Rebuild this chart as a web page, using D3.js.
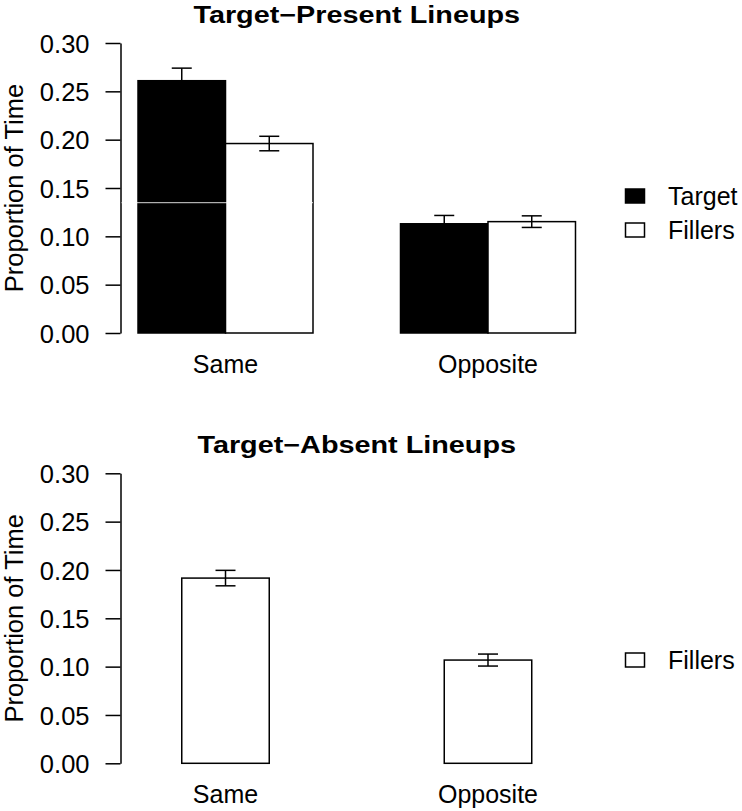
<!DOCTYPE html>
<html>
<head>
<meta charset="utf-8">
<script src="https://cdn.jsdelivr.net/npm/d3@7"></script>
<style>
  body { margin: 0; background: #fff; }
  text { font-family: "Liberation Sans", Arial, Helvetica, sans-serif; fill: #000; }
</style>
</head>
<body>
<script>
// values
const categories = ["Same", "Opposite"];
const yTicks = [0, 0.05, 0.10, 0.15, 0.20, 0.25, 0.30];

const presentTarget = [0.261, 0.113];
const presentTargetSE = [0.013, 0.0086];
const presentFillers = [0.196, 0.1152];
const presentFillersSE = [0.0075, 0.006];

const absentFillers = [0.1916, 0.1068];
const absentFillersSE = [0.008, 0.0062];

const W = 742, H = 811;

const svg = d3.select("body")
    .append("svg")
    .attr("width", W)
    .attr("height", H);

const x = d3.scaleBand().domain(categories)
    .range([120.5, 593]).paddingInner(1 / 3).paddingOuter(0.0667);

function panel(opts) {
    const y = d3.scaleLinear().domain([0, 0.3]).range([opts.bottom, opts.bottom - 290]);
    const g = svg.append("g");

    // title, centred over the plot region (the original lettering is wide and short)
    g.append("text")
        .attr("transform", `translate(${(x.range()[0] + x.range()[1]) / 2},${opts.bottom - 310}) scale(1.2,1)`)
        .attr("text-anchor", "middle")
        .style("font-size", "24px").style("font-weight", "bold")
        .text(opts.title);

    // y axis
    const ax = g.append("g")
        .attr("transform", `translate(120.5,0)`)
        .call(d3.axisLeft(y).tickValues(yTicks).tickFormat(d3.format(".2f"))
            .tickSize(15).tickSizeOuter(0).tickPadding(16));
    ax.selectAll("path, line").attr("stroke", "#000").attr("stroke-width", 1.5);
    ax.selectAll("text").style("font-size", "25.5px").attr("dy", "0.36em");

    g.append("text")
        .attr("transform", `translate(23,${y(0.15)}) rotate(-90)`)
        .attr("text-anchor", "middle")
        .style("font-size", "25.5px")
        .text("Proportion of Time");

    // bars
    const sub = d3.scaleBand().domain(opts.series.map(s => s.name))
        .range([0, x.bandwidth()]).paddingInner(0)
        .paddingOuter(opts.series.length === 1 ? 0.5 : 0);

    opts.series.forEach(s => {
        categories.forEach((c, i) => {
            const x0 = x(c) + sub(s.name);
            g.append("rect")
                .attr("x", x0).attr("width", sub.bandwidth())
                .attr("y", y(s.values[i])).attr("height", y(0) - y(s.values[i]))
                .attr("fill", s.fill).attr("stroke", "#000").attr("stroke-width", 1.5);
        });
    });

    // error bars
    opts.series.forEach(s => {
        categories.forEach((c, i) => {
            const cx = x(c) + sub(s.name) + sub.bandwidth() / 2;
            const lo = y(s.values[i] - s.se[i]), hi = y(s.values[i] + s.se[i]);
            const eg = g.append("g").attr("stroke", "#000").attr("stroke-width", 1.5);
            eg.append("line").attr("x1", cx).attr("x2", cx).attr("y1", lo).attr("y2", hi);
            eg.append("line").attr("x1", cx - 10).attr("x2", cx + 10).attr("y1", lo).attr("y2", lo);
            eg.append("line").attr("x1", cx - 10).attr("x2", cx + 10).attr("y1", hi).attr("y2", hi);
        });
    });

    // category labels
    g.selectAll(".cat").data(categories).join("text")
        .attr("x", d => x(d) + x.bandwidth() / 2)
        .attr("y", y(0) + 40)
        .attr("text-anchor", "middle")
        .style("font-size", "25px")
        .text(d => d);

    // legend
    opts.legend.forEach((s, i) => {
        const ly = opts.legendY + i * 34;
        g.append("rect")
            .attr("x", 625.5).attr("y", ly - 7).attr("width", 19).attr("height", 14)
            .attr("fill", s.fill).attr("stroke", "#000").attr("stroke-width", 1.5);
        g.append("text")
            .attr("x", 668).attr("y", ly)
            .attr("dy", "0.36em")
            .style("font-size", "25px")
            .text(s.name);
    });

    return y;
}

const yTop = panel({
    title: "Target\u2212Present Lineups",
    bottom: 333,
    series: [
        { name: "Target", values: presentTarget, se: presentTargetSE, fill: "#000" },
        { name: "Fillers", values: presentFillers, se: presentFillersSE, fill: "#fff" }
    ],
    legend: [{ name: "Target", fill: "#000" }, { name: "Fillers", fill: "#fff" }],
    legendY: 196
});

// faint seam that runs across the first group in the original image
svg.append("line")
    .attr("x1", 121.5).attr("x2", x("Same") + x.bandwidth())
    .attr("y1", yTop(0.1348)).attr("y2", yTop(0.1348))
    .attr("stroke", "#fff").attr("stroke-opacity", 0.85).attr("stroke-width", 1);

panel({
    title: "Target\u2212Absent Lineups",
    bottom: 763.3,
    series: [
        { name: "Fillers", values: absentFillers, se: absentFillersSE, fill: "#fff" }
    ],
    legend: [{ name: "Fillers", fill: "#fff" }],
    legendY: 660
});
</script>
</body>
</html>
